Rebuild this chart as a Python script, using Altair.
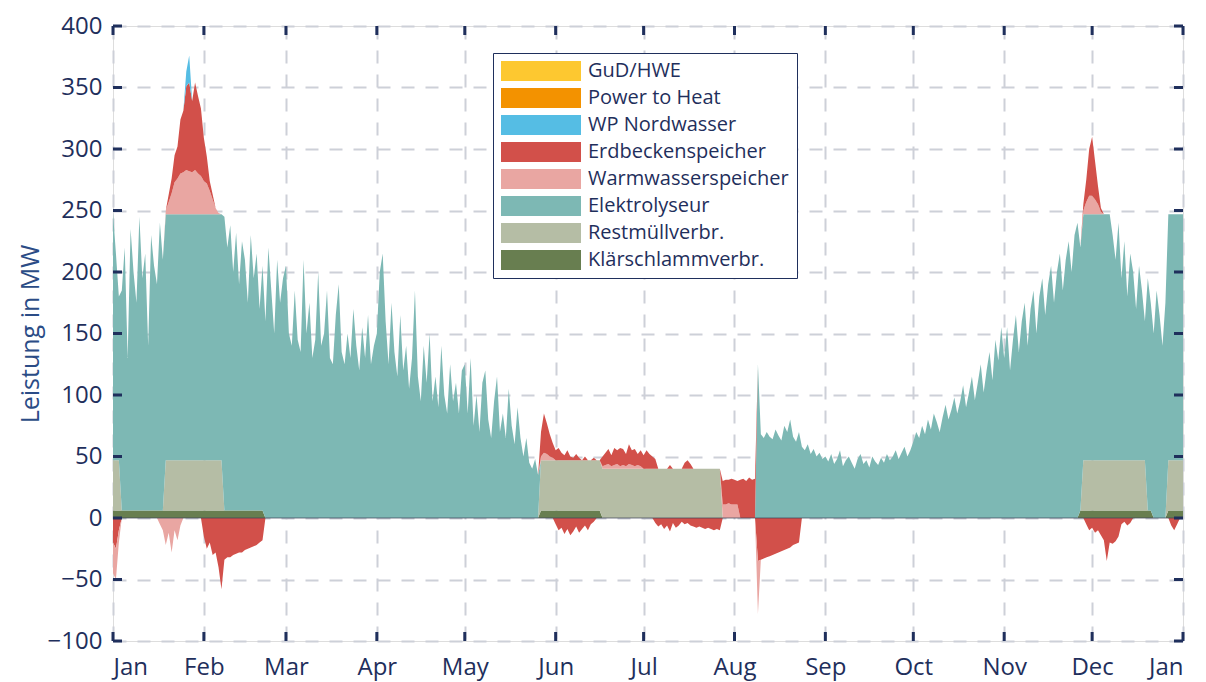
import json
import altair as alt
import pandas as pd

N = 365
W, H = 1070, 615
NAVY = "#1f2f5c"
FONT = "Open Sans"

months = ["Jan", "Feb", "Mar", "Apr", "May", "Jun", "Jul", "Aug", "Sep", "Oct", "Nov", "Dec", "Jan"]
month_start = [0, 31, 59, 90, 120, 151, 181, 212, 243, 273, 304, 334, 365]
y_ticks = [-100, -50, 0, 50, 100, 150, 200, 250, 300, 350, 400]

series_names = ["GuD/HWE", "Power to Heat", "WP Nordwasser", "Erdbeckenspeicher",
                "Warmwasserspeicher", "Elektrolyseur", "Restmüllverbr.", "Klärschlammverbr."]
series_colors = ["#FDC830", "#F39200", "#55BDE4", "#D2504A",
                 "#E9A6A2", "#7DB8B4", "#B5BDA5", "#687E50"]

# ---- daily values (MW) ----
klaer = [6] * 52 + [0] * 94 + [6] * 21 + [0] * 163 + [6] * 25 + [0] * 5 + [6] * 5
rest = [41] * 3 + [0] * 15 + [41] * 20 + [0] * 108 + [41] * 21 + [40] * 41 + [0] * 123 + [41] * 22 + [0] * 7 + [41] * 5

elektro_jan = [201, 168, 133, 179, 214, 124, 229, 194, 169, 239, 189, 209, 134, 224, 199, 184, 234, 204] + [200] * 13
elektro_feb = [200] * 7 + [239, 214, 232, 194, 226, 184, 219, 204, 169, 224, 189, 209, 164, 199, 160, 220, 185, 150, 210, 175, 195]
elektro_mar = [205, 150, 140, 185, 145, 135, 210, 150, 175, 130, 145, 200, 140, 150, 185, 130, 125, 165, 190, 135,
               125, 150, 130, 170, 140, 120, 155, 130, 165, 125, 140]
elektro_apr = [150, 200, 215, 160, 125, 175, 135, 115, 165, 120, 140, 105, 130, 185, 115, 95, 140, 110, 150, 95,
               115, 90, 140, 100, 85, 125, 95, 110, 85, 120]
elektro_may = [125, 85, 130, 75, 100, 70, 110, 120, 80, 65, 95, 115, 70, 85, 65, 105, 75, 60, 90, 65,
               50, 65, 45, 40, 48, 35] + [0] * 5
elektro_jun = [0] * 30
elektro_jul = [0] * 31
elektro_aug = [0] * 8 + [125, 68, 65, 70, 66, 64, 72, 67, 63, 75, 70, 80, 66, 62, 70, 58, 55, 60, 52, 56, 50, 53, 48]
elektro_sep = [50, 46, 52, 44, 48, 55, 42, 47, 50, 45, 40, 48, 52, 44, 47, 41, 50, 46, 43, 49,
               45, 52, 47, 50, 55, 48, 53, 58, 50, 55]
elektro_oct = [62, 70, 65, 75, 68, 80, 72, 85, 78, 70, 82, 92, 80, 88, 98, 85, 95, 108, 90, 102,
               115, 96, 110, 125, 102, 120, 135, 112, 145, 128, 155]
elektro_nov = [130, 155, 120, 145, 165, 135, 160, 175, 140, 170, 185, 150, 180, 195, 165, 190, 205, 175, 200, 215,
               185, 210, 225, 200, 230, 240, 214, 200, 200, 200]
elektro_dec = [200] * 7 + [183, 163, 193, 148, 178, 133, 168, 153, 123, 158, 138, 113, 189, 169,
                           150, 185, 165, 140, 175] + [200] * 5

# storage, positive (discharge) and negative (charge) parts: (start day, values)
eb_pos_segments = [
    (18, [0, 6, 12, 22, 26, 44, 50, 68, 72, 58, 71, 63, 55, 35, 22, 8, 4, 0, 0, 0]),
    (146, [20, 32, 25, 18, 12, 8, 10, 6, 4, 8, 3, 2, 5, 2, 0, 3, 0, 0, 2, 0, 0]),
    (167, [8, 10, 12, 9, 14, 11, 15, 13, 10, 16, 12, 14, 9, 13, 11, 15, 12, 10, 8]),
    (186, [0, 0, 0, 0, 3, 0, 0, 0, 0, 5, 7, 4]),
    (208, [19, 20, 19, 21, 20, 19, 31, 32, 30, 33, 31, 32]),
    (331, [5, 18, 38, 48, 31, 15, 3]),
]
eb_neg_segments = [
    (0, [-20, -25, -10]),
    (31, [-15, -25, -20, -30, -28, -40, -58, -34, -32, -32, -30, -29, -28, -28, -26, -25, -24, -23, -22, -20, -18]),
    (151, [-5, -10, -8, -13, -9, -14, -11, -7, -12, -9, -6, -10, -5, -3]),
    (185, [-4, -7, -5, -9, -6, -11, -4, -8, -6, -3, -5, -4, -6, -7, -8, -7, -8, -9, -8, -9, -10, -9, -10]),
    (220, [-35, -34, -33, -32, -31, -30, -29, -28, -27, -26, -25, -24, -22, -21, -20]),
    (332, [-5, -10, -8, -12, -10, -14, -18, -35, -20, -21, -19, -15, -5, -3, -6, -4]),
    (361, [-6, -10, -5]),
]
ww_pos_segments = [
    (18, [3, 10, 17, 26, 29, 33, 34, 36, 35, 34, 36, 33, 31, 27, 25, 19, 12, 5, 1, 0]),
    (146, [3, 6, 5, 3, 2]),
    (167, [2, 3, 4, 2, 3, 4, 2, 3, 2, 4, 3, 2, 3, 2]),
    (208, [11, 11, 12, 11, 11, 11]),
    (331, [3, 10, 15, 15, 12, 8, 2]),
]
ww_neg_segments = [
    (0, [-25, -25, -10]),
    (16, [-5, -10, -22, -12, -28, -10, -18, -6]),
    (220, [-43]),
]
wp_segments = [(25, [12, 22])]
pth_segments = []
gud_segments = []


def build(segments):
    arr = [0] * N
    for start, vals in segments:
        for i, v in enumerate(vals):
            arr[start + i] = v
    return arr


elektro = (elektro_jan + elektro_feb + elektro_mar + elektro_apr + elektro_may + elektro_jun +
           elektro_jul + elektro_aug + elektro_sep + elektro_oct + elektro_nov + elektro_dec)
eb_pos, eb_neg = build(eb_pos_segments), build(eb_neg_segments)
ww_pos, ww_neg = build(ww_pos_segments), build(ww_neg_segments)
wp, pth, gud = build(wp_segments), build(pth_segments), build(gud_segments)

pos_order = [("Klärschlammverbr.", klaer), ("Restmüllverbr.", rest), ("Elektrolyseur", elektro),
             ("Warmwasserspeicher", ww_pos), ("Erdbeckenspeicher", eb_pos), ("WP Nordwasser", wp),
             ("Power to Heat", pth), ("GuD/HWE", gud)]
neg_order = [("Erdbeckenspeicher", eb_neg), ("Warmwasserspeicher", ww_neg)]

rows = []
for x in range(N + 1):
    d = min(x, N - 1)
    cum = 0
    for name, arr in pos_order:
        lo = cum
        cum += arr[d]
        rows.append({"day": x, "series": name, "part": "pos", "lo": lo, "hi": cum})
    cum = 0
    for name, arr in neg_order:
        hi = cum
        cum += arr[d]
        rows.append({"day": x, "series": name, "part": "neg", "lo": cum, "hi": hi})
df = pd.DataFrame(rows)

label_expr = "%s[indexof(%s, datum.value)]" % (json.dumps(months), json.dumps(month_start))
xscale = alt.Scale(domain=[0, 365], nice=False, zero=False)
yscale = alt.Scale(domain=[-100, 400], nice=False, zero=False)
xaxis = alt.Axis(values=month_start, labelExpr=label_expr, grid=True, ticks=False, domain=False,
                 gridDash=[13, 11], gridColor="#cdd0d8", gridWidth=2, labelFontSize=24,
                 labelColor=NAVY, labelFont=FONT, labelPadding=14, title=None)
yaxis = alt.Axis(values=y_ticks, grid=True, ticks=False, domain=False,
                 gridDash=[13, 11], gridColor="#cdd0d8", gridWidth=2, labelFontSize=24,
                 labelColor=NAVY, labelFont=FONT, labelPadding=11,
                 title="Leistung in MW", titleFontSize=25, titleFont=FONT, titleColor="#2b4c86",
                 titleFontWeight="normal", titlePadding=4)

areas = alt.Chart(df).mark_area(clip=True, interpolate="linear", opacity=1).encode(
    x=alt.X("day:Q", scale=xscale, axis=xaxis),
    y=alt.Y("lo:Q", scale=yscale, axis=yaxis, stack=None),
    y2="hi:Q",
    color=alt.Color("series:N", scale=alt.Scale(domain=series_names, range=series_colors),
                    legend=alt.Legend(title=None, orient="none", legendX=380, legendY=27,
                                      symbolType="M-1,-1H7V1H-1Z", symbolSize=400,
                                      symbolStrokeWidth=0, symbolOpacity=1,
                                      labelFontSize=20, labelColor=NAVY, labelFont=FONT,
                                      labelOffset=67, labelLimit=300, rowPadding=7, padding=8,
                                      strokeColor=NAVY, fillColor="white")),
    detail="part:N",
)

zero = alt.Chart(pd.DataFrame({"v": [0]})).mark_rule(color="#3a3f55", strokeWidth=1, opacity=0.7).encode(
    y=alt.Y("v:Q", scale=yscale, axis=yaxis))

ytick_df = pd.DataFrame({"v": y_ticks})
xtick_df = pd.DataFrame({"v": month_start})
tick_style = dict(color=NAVY, thickness=3, size=9, opacity=1)
lt = alt.Chart(ytick_df).mark_tick(orient="horizontal", **tick_style).encode(
    y=alt.Y("v:Q", scale=yscale, axis=yaxis), x=alt.value(4.5))
rt = alt.Chart(ytick_df).mark_tick(orient="horizontal", **tick_style).encode(
    y=alt.Y("v:Q", scale=yscale, axis=yaxis), x=alt.value(W - 4.5))
bt = alt.Chart(xtick_df).mark_tick(orient="vertical", **tick_style).encode(
    x=alt.X("v:Q", scale=xscale, axis=xaxis), y=alt.value(H - 4.5))
tt = alt.Chart(xtick_df).mark_tick(orient="vertical", **tick_style).encode(
    x=alt.X("v:Q", scale=xscale, axis=xaxis), y=alt.value(4.5))

chart = alt.layer(areas, zero, lt, rt, bt, tt).properties(
    width=W, height=H,
    padding={"left": 10, "top": 6, "right": 5, "bottom": 5},
).configure_view(stroke=NAVY, strokeWidth=3).configure_legend(strokeWidth=3).configure(background="white")

chart.save("out.html", embed_options={"renderer": "svg", "actions": False})
